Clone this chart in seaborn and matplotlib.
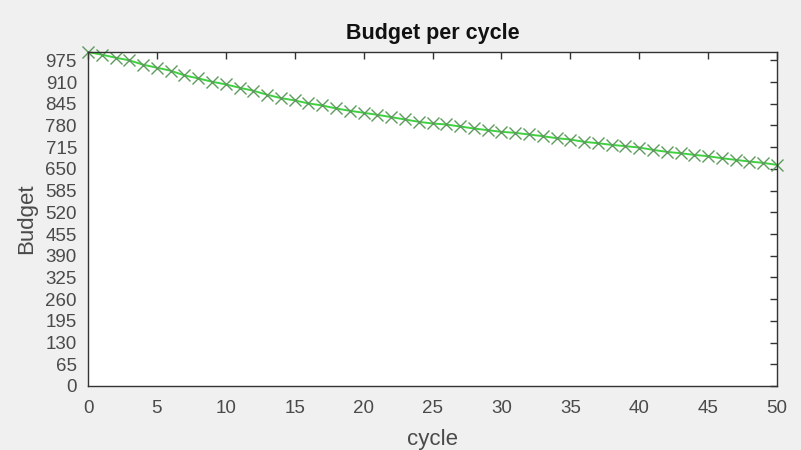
import matplotlib
matplotlib.use("Agg")
import matplotlib.pyplot as plt
import seaborn as sns
import pandas as pd
import numpy as np

cycles = list(range(0, 51))
budget = [1000, 992, 983, 975, 962, 953, 944, 930, 921, 911,
          903, 893, 884, 872, 862, 855, 846, 840, 831, 824,
          818, 812, 805, 798, 791, 786, 783, 777, 771, 766,
          761, 758, 753, 748, 742, 738, 731, 727, 722, 718,
          714, 707, 701, 697, 692, 688, 682, 677, 672, 668,
          662]
y_ticks = list(range(0, 976, 65))
x_ticks = list(range(0, 51, 5))

df = pd.DataFrame({"cycle": cycles, "Budget": budget})

sns.set_theme(style="white")
plt.rcParams['font.family'] = ['Liberation Sans', 'DejaVu Sans']

fig = plt.figure(figsize=(8.01, 4.5), dpi=100)
fig.patch.set_facecolor('#f0f0f0')
ax = fig.add_axes([88/801, 64/450, (777-88)/801, (386-52)/450])
ax.set_facecolor('white')

sns.lineplot(data=df, x="cycle", y="Budget", ax=ax, color='#3fd23f',
             linewidth=1.4, marker='x', markersize=8, markeredgewidth=1.0,
             markeredgecolor='#5f9a5f', clip_on=False)

ax.set_xlim(0, 50)
ax.set_ylim(0, 1000)
ax.set_xticks(x_ticks)
ax.set_yticks(y_ticks)
tc = '#4a4a4a'
ax.tick_params(axis='both', direction='in', length=5, width=1, colors='#333333',
               labelsize=13.5, labelcolor=tc, top=True, right=True,
               labeltop=False, labelright=False)
ax.tick_params(axis='x', pad=10)
ax.tick_params(axis='y', pad=8)
for s in ax.spines.values():
    s.set_color('#333333')
    s.set_linewidth(1)

ax.set_title("Budget per cycle", fontsize=15.5, fontweight='bold', color='#111111', pad=9)
ax.set_xlabel("cycle", fontsize=16, color=tc, labelpad=9)
ax.set_ylabel("Budget", fontsize=16, color=tc, labelpad=6)

fig.savefig("out.png", dpi=100, facecolor=fig.get_facecolor())
